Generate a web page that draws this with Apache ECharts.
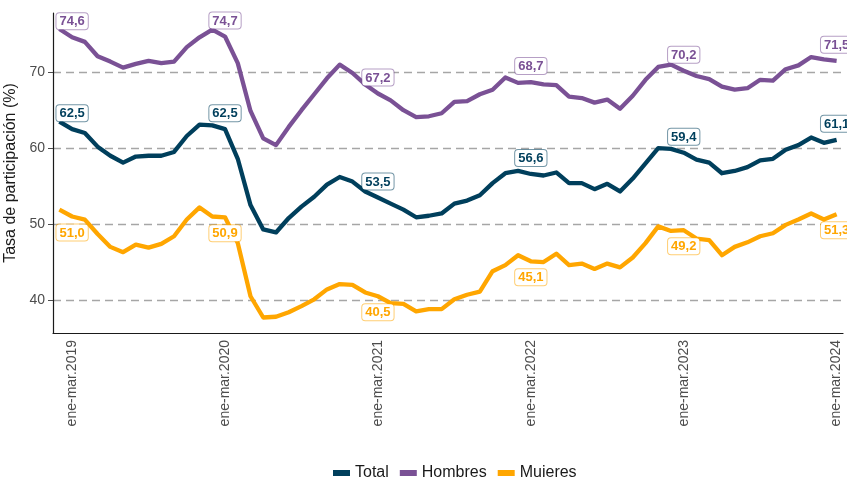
<!DOCTYPE html>
<html>
<head>
<meta charset="utf-8">
<script src="https://cdn.jsdelivr.net/npm/echarts@6/dist/echarts.min.js"></script>
<style>
  html, body { margin: 0; padding: 0; background: #fff; }
  #chart { width: 847px; height: 477px; }
</style>
</head>
<body>
<div id="chart"></div>
<script>
// trimestres móviles, de dic-feb.2019 a ene-mar.2024
var meses = ['ene','feb','mar','abr','may','jun','jul','ago','sep','oct','nov','dic'];
var periods = [];
for (var s = -1; s <= 60; s++) {
    var ini = ((s % 12) + 12) % 12;
    var fin = (ini + 2) % 12;
    periods.push(meses[ini] + '-' + meses[fin] + '.' + (2019 + Math.floor((s + 2) / 12)));
}

var tickLabels = ['ene-mar.2019','ene-mar.2020','ene-mar.2021','ene-mar.2022','ene-mar.2023','ene-mar.2024'];
var yTicks = [40, 50, 60, 70];

// tasa de participación (%)
var total = [63.5, 62.5, 62.0, 60.2, 59.0, 58.1, 58.9, 59.0, 59.0, 59.5, 61.6, 63.1, 63.0, 62.5,
    58.6, 52.5, 49.3, 48.9, 50.8, 52.3, 53.6, 55.2, 56.2, 55.6, 54.3, 53.5, 52.7, 51.9, 50.9, 51.1,
    51.4, 52.7, 53.1, 53.8, 55.4, 56.7, 57.0, 56.6, 56.4, 56.8, 55.4, 55.4, 54.6, 55.3, 54.3, 56.0,
    58.0, 60.0, 59.9, 59.4, 58.5, 58.1, 56.7, 57.0, 57.5, 58.4, 58.6, 59.8, 60.4, 61.4, 60.7, 61.1];
var hombres = [75.7, 74.6, 74.0, 72.1, 71.4, 70.6, 71.1, 71.5, 71.2, 71.4, 73.3, 74.6, 75.6, 74.7,
    71.2, 64.9, 61.3, 60.4, 62.8, 65.0, 67.1, 69.2, 71.0, 69.9, 68.4, 67.2, 66.3, 65.0, 64.1, 64.2,
    64.6, 66.1, 66.2, 67.1, 67.7, 69.3, 68.6, 68.7, 68.4, 68.3, 66.8, 66.6, 66.0, 66.4, 65.2, 66.9,
    69.0, 70.7, 71.0, 70.2, 69.5, 69.1, 68.1, 67.7, 67.9, 69.0, 68.9, 70.4, 70.9, 72.0, 71.7, 71.5];
var mujeres = [51.9, 51.0, 50.6, 48.7, 47.0, 46.3, 47.3, 46.9, 47.4, 48.4, 50.6, 52.2, 51.0, 50.9,
    47.5, 40.5, 37.7, 37.8, 38.4, 39.2, 40.1, 41.4, 42.1, 42.0, 41.0, 40.5, 39.6, 39.5, 38.5, 38.8,
    38.8, 40.1, 40.7, 41.1, 43.8, 44.6, 45.9, 45.1, 45.0, 46.1, 44.6, 44.8, 44.1, 44.8, 44.3, 45.6,
    47.5, 49.7, 49.1, 49.2, 48.1, 47.9, 45.9, 47.0, 47.6, 48.4, 48.8, 49.9, 50.6, 51.4, 50.6, 51.3];

var tickIdx = tickLabels.map(function (l) { return periods.indexOf(l); });
var fuente = 'Liberation Sans, Arial, sans-serif';

// etiquetas solo en los ene-mar de cada año
function conEtiquetas(values, color, borde, pos) {
    return values.map(function (v, i) {
        if (tickIdx.indexOf(i) < 0) return v;
        return {
            value: v,
            label: {
                show: true,
                position: pos,
                distance: 8,
                formatter: function (p) { return p.value.toFixed(1).replace('.', ','); },
                color: color,
                fontFamily: fuente,
                fontWeight: 'bold',
                fontSize: 13,
                lineHeight: 13,
                backgroundColor: '#fff',
                borderColor: borde,
                borderWidth: 1,
                borderRadius: 3,
                padding: [2, 3, 1, 3]
            }
        };
    });
}

function serie(nombre, values, color, borde, pos) {
    return {
        name: nombre,
        type: 'line',
        data: conEtiquetas(values, color, borde, pos),
        showSymbol: true,
        symbol: 'circle',
        symbolSize: 0,
        lineStyle: { width: 4.3, color: color, join: 'round' },
        itemStyle: { color: color },
        emphasis: { disabled: true },
        animation: false
    };
}

var chart = echarts.init(document.getElementById('chart'));
chart.setOption({
    backgroundColor: '#fff',
    grid: { left: 53, right: 4, top: 13, bottom: 144, outerBoundsMode: 'none', containLabel: false },
    legend: {
        left: 328,
        top: 460,
        icon: 'rect',
        itemWidth: 17,
        itemHeight: 6,
        itemGap: 11,
        textStyle: { fontFamily: fuente, fontSize: 16, color: '#1a1a1a' },
        data: ['Total', 'Hombres', 'Mujeres']
    },
    xAxis: {
        type: 'category',
        data: periods,
        boundaryGap: true,
        axisLine: { lineStyle: { color: '#1a1a1a', width: 1.2 } },
        axisTick: {
            alignWithLabel: true,
            length: 5,
            interval: function (i) { return tickIdx.indexOf(i) >= 0; },
            lineStyle: { color: '#4d4d4d' }
        },
        axisLabel: {
            rotate: 90,
            margin: 7,
            interval: function (i) { return tickIdx.indexOf(i) >= 0; },
            fontFamily: fuente,
            fontSize: 14,
            color: '#4d4d4d'
        },
        splitLine: { show: false }
    },
    yAxis: {
        type: 'value',
        min: 35.66,
        max: 77.8,
        name: 'Tasa de participación (%)',
        nameLocation: 'middle',
        nameRotate: 90,
        nameGap: 29,
        nameTextStyle: { fontFamily: fuente, fontSize: 16, color: '#1a1a1a' },
        axisLine: { show: true, lineStyle: { color: '#1a1a1a', width: 1.2 } },
        axisTick: { show: true, length: 5, customValues: yTicks, lineStyle: { color: '#4d4d4d' } },
        axisLabel: { customValues: yTicks, margin: 8, fontFamily: fuente, fontSize: 14, color: '#4d4d4d' },
        splitLine: { show: true, lineStyle: { color: '#a6a6a6', width: 1.3, type: [8, 5] } }
    },
    series: [
        serie('Total', total, '#003f5c', 'rgba(0,63,92,0.55)', 'top'),
        serie('Hombres', hombres, '#7a5195', 'rgba(122,81,149,0.55)', 'top'),
        serie('Mujeres', mujeres, '#ffa600', 'rgba(255,166,0,0.55)', 'bottom')
    ]
});
</script>
</body>
</html>
